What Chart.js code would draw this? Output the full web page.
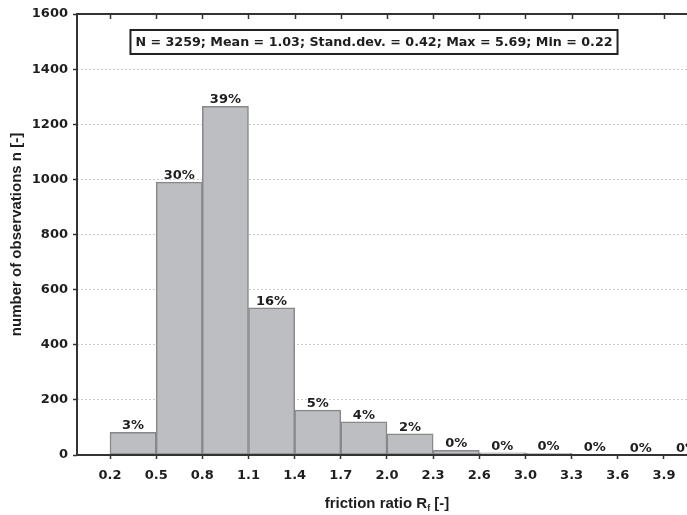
<!DOCTYPE html>
<html>
<head>
<meta charset="utf-8">
<script src="https://cdn.jsdelivr.net/npm/chart.js@4.4.0/dist/chart.umd.min.js"></script>
<style>
  html, body { margin: 0; padding: 0; background: #fff; }
  canvas { display: block; }
</style>
</head>
<body>
<canvas id="histo" width="687" height="515"></canvas>
<script>
// bin edges of the friction ratio, used as x tick labels
const binEdges = ['0.2', '0.5', '0.8', '1.1', '1.4', '1.7', '2.0', '2.3', '2.6', '3.0', '3.3', '3.6', '3.9'];
// observations per bin (bin i goes from binEdges[i] to binEdges[i + 1])
const counts = [82, 990, 1265, 534, 163, 120, 77, 17, 8, 6, 2, 1, 1];
// share of all observations, as printed over each bar
const percentLabels = ['3%', '30%', '39%', '16%', '5%', '4%', '2%', '0%', '0%', '0%', '0%', '0%', '0%'];
// summary statistics shown in the box
const statNames = ['N', 'Mean', 'Stand.dev.', 'Max', 'Min'];
const statValues = ['3259', '1.03', '0.42', '5.69', '0.22'];

const TEXT = '#1e1e1e';
const AXIS = '#333333';
const tickFont = { family: '"DejaVu Sans"', weight: 'bold', size: 13 };

// frame, top ticks, percent labels and stats box
const decorations = {
  id: 'decorations',
  afterDatasetsDraw(chart) {
    const { ctx, chartArea: a, scales: { x } } = chart;
    ctx.save();

    // percentages over the bars
    const meta = chart.getDatasetMeta(0);
    ctx.font = 'bold 13px "DejaVu Sans"';
    ctx.fillStyle = TEXT;
    ctx.textAlign = 'center';
    ctx.textBaseline = 'alphabetic';
    meta.data.forEach((bar, i) => {
      ctx.fillText(percentLabels[i], bar.x, bar.y - 3);
    });

    // axis frame (left, bottom, top)
    ctx.strokeStyle = AXIS;
    ctx.lineWidth = 2;
    ctx.beginPath();
    ctx.moveTo(a.right, a.top);
    ctx.lineTo(a.left, a.top);
    ctx.lineTo(a.left, a.bottom);
    ctx.lineTo(a.right, a.bottom);
    ctx.stroke();

    // small inward ticks on the top border
    ctx.lineWidth = 1.5;
    ctx.beginPath();
    x.ticks.forEach((t, i) => {
      const px = Math.round(x.getPixelForTick(i)) + 0.5;
      ctx.moveTo(px, a.top);
      ctx.lineTo(px, a.top + 5);
    });
    ctx.stroke();

    // statistics box
    const statText = statNames.map((n, i) => n + ' = ' + statValues[i]).join('; ');
    ctx.font = 'bold 12.7px "DejaVu Sans"';
    const w = ctx.measureText(statText).width;
    const cx = a.left + 297;
    const cy = a.top + 28;
    ctx.fillStyle = '#ffffff';
    ctx.fillRect(cx - w / 2 - 5, cy - 12, w + 10, 24);
    ctx.strokeStyle = '#222';
    ctx.lineWidth = 2;
    ctx.strokeRect(cx - w / 2 - 5, cy - 12, w + 10, 24);
    ctx.fillStyle = TEXT;
    ctx.textAlign = 'center';
    ctx.textBaseline = 'middle';
    ctx.fillText(statText, cx, cy + 1);

    ctx.restore();
  },
  afterDraw(chart) {
    const { ctx, chartArea: a } = chart;
    ctx.save();
    ctx.fillStyle = TEXT;
    ctx.textBaseline = 'alphabetic';

    // y axis title, rotated
    ctx.font = 'bold 15px "Liberation Sans", Arial, sans-serif';
    ctx.translate(21, (a.top + a.bottom) / 2);
    ctx.rotate(-Math.PI / 2);
    ctx.textAlign = 'center';
    ctx.fillText('number of observations n [-]', 0, 0);
    ctx.setTransform(1, 0, 0, 1, 0, 0);

    // x axis title with subscript f
    const main = 'friction ratio R';
    const sub = 'f';
    const tail = ' [-]';
    const bigFont = 'bold 15px "Liberation Sans", Arial, sans-serif';
    const smallFont = 'bold 9px "Liberation Sans", Arial, sans-serif';
    ctx.font = bigFont;
    const w1 = ctx.measureText(main).width;
    const w3 = ctx.measureText(tail).width;
    ctx.font = smallFont;
    const w2 = ctx.measureText(sub).width;
    const total = w1 + w2 + w3;
    let tx = (a.left + a.right) / 2 + 5 - total / 2;
    const base = 508;
    ctx.textAlign = 'left';
    ctx.font = bigFont;
    ctx.fillText(main, tx, base);
    tx += w1;
    ctx.font = smallFont;
    ctx.fillText(sub, tx, base + 3);
    tx += w2;
    ctx.font = bigFont;
    ctx.fillText(tail, tx, base);

    ctx.restore();
  }
};

const ctx = document.getElementById('histo');
new Chart(ctx, {
  type: 'bar',
  data: {
    datasets: [{
      label: 'observations',
      data: counts.map((c, i) => ({ x: i + 0.5, y: c })),
      backgroundColor: '#bdbec2',
      borderColor: '#88888a',
      borderWidth: 1.5,
      borderSkipped: false,
      barPercentage: 1,
      categoryPercentage: 1
    }]
  },
  options: {
    responsive: false,
    animation: false,
    layout: { padding: { left: 0, top: 14, right: 0, bottom: 0 } },
    plugins: {
      legend: { display: false },
      tooltip: { enabled: false }
    },
    scales: {
      x: {
        type: 'linear',
        offset: false,
        min: -0.715,
        max: 12.5,
        afterBuildTicks: scale => {
          scale.ticks = binEdges.map((e, i) => ({ value: i }));
        },
        afterFit: scale => { scale.height = 60; },
        ticks: {
          autoSkip: false,
          maxRotation: 0,
          padding: 9,
          color: TEXT,
          font: tickFont,
          callback: value => binEdges[value]
        },
        grid: {
          offset: false,
          drawOnChartArea: false,
          drawTicks: true,
          tickLength: 4,
          tickColor: AXIS,
          tickWidth: 1.5
        },
        border: { display: false }
      },
      y: {
        min: 0,
        max: 1600,
        afterFit: scale => { scale.width = 77; },
        ticks: {
          stepSize: 200,
          padding: 5,
          color: TEXT,
          font: tickFont,
          callback: value => String(value)
        },
        grid: {
          color: '#cccccc',
          lineWidth: 1,
          drawTicks: true,
          tickLength: 4,
          tickColor: AXIS,
          tickWidth: 1.5
        },
        border: { display: false, dash: [2, 2] }
      }
    }
  },
  plugins: [decorations]
});
</script>
</body>
</html>
